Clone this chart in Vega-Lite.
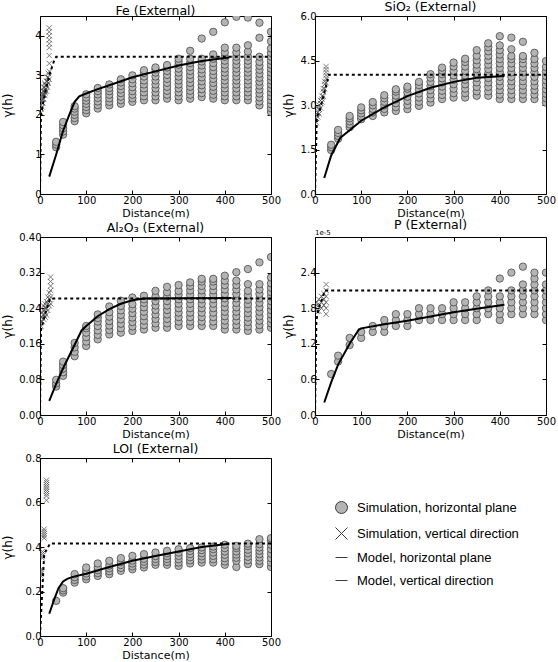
{
"$schema": "https://vega.github.io/schema/vega-lite/v6.json",
"columns": 2,
"spacing": {"row": 43, "column": 44},
"bounds": "flush",
"padding": {"left": 0, "top": 0, "right": 5, "bottom": 2},
"datasets": {
"feH": [
{"x":35,"y":1.18},{"x":35,"y":1.25},{"x":35,"y":1.32},
{"x":50,"y":1.5},{"x":50,"y":1.58},{"x":50,"y":1.66},{"x":50,"y":1.74},{"x":50,"y":1.82},
{"x":75,"y":1.84},{"x":75,"y":1.92},{"x":75,"y":2.0},{"x":75,"y":2.08},{"x":75,"y":2.16},{"x":75,"y":2.22},
{"x":100,"y":2.04},{"x":100,"y":2.12},{"x":100,"y":2.2},{"x":100,"y":2.28},{"x":100,"y":2.36},{"x":100,"y":2.44},{"x":100,"y":2.52},
{"x":125,"y":2.16},{"x":125,"y":2.25},{"x":125,"y":2.34},{"x":125,"y":2.43},{"x":125,"y":2.52},{"x":125,"y":2.6},{"x":125,"y":2.68},
{"x":150,"y":2.24},{"x":150,"y":2.33},{"x":150,"y":2.42},{"x":150,"y":2.51},{"x":150,"y":2.6},{"x":150,"y":2.68},{"x":150,"y":2.77},
{"x":175,"y":2.28},{"x":175,"y":2.37},{"x":175,"y":2.46},{"x":175,"y":2.55},{"x":175,"y":2.64},{"x":175,"y":2.73},{"x":175,"y":2.82},{"x":175,"y":2.9},
{"x":200,"y":2.33},{"x":200,"y":2.42},{"x":200,"y":2.51},{"x":200,"y":2.6},{"x":200,"y":2.7},{"x":200,"y":2.8},{"x":200,"y":2.9},{"x":200,"y":3.0},
{"x":225,"y":2.37},{"x":225,"y":2.47},{"x":225,"y":2.57},{"x":225,"y":2.67},{"x":225,"y":2.77},{"x":225,"y":2.87},{"x":225,"y":2.97},{"x":225,"y":3.06},{"x":225,"y":3.13},
{"x":250,"y":2.37},{"x":250,"y":2.47},{"x":250,"y":2.57},{"x":250,"y":2.67},{"x":250,"y":2.77},{"x":250,"y":2.87},{"x":250,"y":2.97},{"x":250,"y":3.07},{"x":250,"y":3.15},{"x":250,"y":3.2},
{"x":275,"y":2.41},{"x":275,"y":2.51},{"x":275,"y":2.61},{"x":275,"y":2.71},{"x":275,"y":2.81},{"x":275,"y":2.91},{"x":275,"y":3.01},{"x":275,"y":3.11},{"x":275,"y":3.2},{"x":275,"y":3.26},
{"x":300,"y":2.37},{"x":300,"y":2.47},{"x":300,"y":2.57},{"x":300,"y":2.67},{"x":300,"y":2.77},{"x":300,"y":2.87},{"x":300,"y":2.97},{"x":300,"y":3.07},{"x":300,"y":3.17},{"x":300,"y":3.27},{"x":300,"y":3.35},{"x":300,"y":3.42},
{"x":325,"y":2.41},{"x":325,"y":2.51},{"x":325,"y":2.61},{"x":325,"y":2.71},{"x":325,"y":2.81},{"x":325,"y":2.91},{"x":325,"y":3.01},{"x":325,"y":3.11},{"x":325,"y":3.21},{"x":325,"y":3.31},{"x":325,"y":3.42},{"x":325,"y":3.62},
{"x":350,"y":2.45},{"x":350,"y":2.55},{"x":350,"y":2.65},{"x":350,"y":2.75},{"x":350,"y":2.85},{"x":350,"y":2.95},{"x":350,"y":3.05},{"x":350,"y":3.15},{"x":350,"y":3.25},{"x":350,"y":3.35},{"x":350,"y":3.42},{"x":350,"y":3.93},
{"x":375,"y":2.41},{"x":375,"y":2.51},{"x":375,"y":2.61},{"x":375,"y":2.71},{"x":375,"y":2.81},{"x":375,"y":2.91},{"x":375,"y":3.01},{"x":375,"y":3.11},{"x":375,"y":3.21},{"x":375,"y":3.31},{"x":375,"y":3.42},{"x":375,"y":3.53},{"x":375,"y":4.1},
{"x":400,"y":2.37},{"x":400,"y":2.47},{"x":400,"y":2.57},{"x":400,"y":2.67},{"x":400,"y":2.77},{"x":400,"y":2.87},{"x":400,"y":2.97},{"x":400,"y":3.07},{"x":400,"y":3.17},{"x":400,"y":3.27},{"x":400,"y":3.37},{"x":400,"y":3.47},{"x":400,"y":3.58},{"x":400,"y":3.7},{"x":400,"y":4.34},
{"x":425,"y":2.37},{"x":425,"y":2.47},{"x":425,"y":2.57},{"x":425,"y":2.67},{"x":425,"y":2.77},{"x":425,"y":2.87},{"x":425,"y":2.97},{"x":425,"y":3.07},{"x":425,"y":3.17},{"x":425,"y":3.27},{"x":425,"y":3.37},{"x":425,"y":3.47},{"x":425,"y":3.58},{"x":425,"y":3.7},{"x":425,"y":4.48},
{"x":450,"y":2.37},{"x":450,"y":2.47},{"x":450,"y":2.57},{"x":450,"y":2.67},{"x":450,"y":2.77},{"x":450,"y":2.87},{"x":450,"y":2.97},{"x":450,"y":3.07},{"x":450,"y":3.17},{"x":450,"y":3.27},{"x":450,"y":3.37},{"x":450,"y":3.47},{"x":450,"y":3.6},{"x":450,"y":3.76},{"x":450,"y":4.46},
{"x":475,"y":2.24},{"x":475,"y":2.34},{"x":475,"y":2.44},{"x":475,"y":2.54},{"x":475,"y":2.64},{"x":475,"y":2.74},{"x":475,"y":2.84},{"x":475,"y":2.94},{"x":475,"y":3.04},{"x":475,"y":3.14},{"x":475,"y":3.24},{"x":475,"y":3.34},{"x":475,"y":3.47},{"x":475,"y":3.95},{"x":475,"y":4.33},
{"x":500,"y":2.07},{"x":500,"y":2.17},{"x":500,"y":2.27},{"x":500,"y":2.37},{"x":500,"y":2.47},{"x":500,"y":2.57},{"x":500,"y":2.67},{"x":500,"y":2.77},{"x":500,"y":2.87},{"x":500,"y":2.97},{"x":500,"y":3.07},{"x":500,"y":3.17},{"x":500,"y":3.27},{"x":500,"y":3.37},{"x":500,"y":3.47},{"x":500,"y":3.57},{"x":500,"y":3.68},{"x":500,"y":3.86},{"x":500,"y":4.1}
],
"feV": [
{"x":2,"y":2.05},{"x":2,"y":2.15},{"x":2,"y":2.25},{"x":2,"y":2.35},
{"x":4,"y":2.2},{"x":4,"y":2.3},{"x":4,"y":2.4},{"x":4,"y":2.5},
{"x":6,"y":2.3},{"x":6,"y":2.4},{"x":6,"y":2.5},{"x":6,"y":2.6},
{"x":8,"y":2.4},{"x":8,"y":2.5},{"x":8,"y":2.6},{"x":8,"y":2.7},
{"x":10,"y":2.5},{"x":10,"y":2.6},{"x":10,"y":2.7},{"x":10,"y":2.8},
{"x":12,"y":2.55},{"x":12,"y":2.65},{"x":12,"y":2.75},
{"x":14,"y":2.6},{"x":14,"y":2.75},{"x":14,"y":2.85},
{"x":16,"y":2.7},{"x":16,"y":2.85},{"x":16,"y":2.95},
{"x":18,"y":2.8},{"x":18,"y":2.95},{"x":18,"y":3.05},
{"x":20,"y":2.9},{"x":20,"y":3.1},{"x":20,"y":3.3},{"x":20,"y":3.5},{"x":20,"y":3.7},{"x":20,"y":3.8},{"x":20,"y":3.9},{"x":20,"y":4.0},{"x":20,"y":4.1},{"x":20,"y":4.2}
],
"feM": [{"x":20,"y":0.44},{"x":35,"y":1.0},{"x":50,"y":1.6},{"x":65,"y":2.05},{"x":75,"y":2.33},{"x":85,"y":2.47},{"x":100,"y":2.54},{"x":125,"y":2.65},{"x":150,"y":2.75},{"x":200,"y":2.95},{"x":250,"y":3.1},{"x":300,"y":3.25},{"x":350,"y":3.36},{"x":400,"y":3.44},{"x":410,"y":3.45}],
"feMV": [{"x":0,"y":0},{"x":2,"y":2.0},{"x":10,"y":2.5},{"x":20,"y":3.0},{"x":30,"y":3.35},{"x":35,"y":3.47},{"x":500,"y":3.47}],
"siH": [
{"x":35,"y":1.48},{"x":35,"y":1.58},{"x":35,"y":1.66},
{"x":50,"y":1.86},{"x":50,"y":1.96},{"x":50,"y":2.06},{"x":50,"y":2.16},
{"x":75,"y":2.25},{"x":75,"y":2.35},{"x":75,"y":2.45},{"x":75,"y":2.55},{"x":75,"y":2.63},
{"x":100,"y":2.52},{"x":100,"y":2.62},{"x":100,"y":2.72},{"x":100,"y":2.82},{"x":100,"y":2.92},
{"x":125,"y":2.63},{"x":125,"y":2.75},{"x":125,"y":2.87},{"x":125,"y":2.99},{"x":125,"y":3.1},
{"x":150,"y":2.75},{"x":150,"y":2.87},{"x":150,"y":2.99},{"x":150,"y":3.11},{"x":150,"y":3.23},{"x":150,"y":3.33},
{"x":175,"y":2.8},{"x":175,"y":2.93},{"x":175,"y":3.06},{"x":175,"y":3.19},{"x":175,"y":3.32},{"x":175,"y":3.45},{"x":175,"y":3.53},
{"x":200,"y":2.86},{"x":200,"y":3.0},{"x":200,"y":3.14},{"x":200,"y":3.28},{"x":200,"y":3.42},{"x":200,"y":3.55},{"x":200,"y":3.62},
{"x":225,"y":2.97},{"x":225,"y":3.11},{"x":225,"y":3.25},{"x":225,"y":3.39},{"x":225,"y":3.53},{"x":225,"y":3.67},{"x":225,"y":3.78},
{"x":250,"y":3.08},{"x":250,"y":3.22},{"x":250,"y":3.36},{"x":250,"y":3.5},{"x":250,"y":3.64},{"x":250,"y":3.78},{"x":250,"y":3.92},{"x":250,"y":4.04},
{"x":275,"y":3.2},{"x":275,"y":3.34},{"x":275,"y":3.48},{"x":275,"y":3.62},{"x":275,"y":3.76},{"x":275,"y":3.9},{"x":275,"y":4.04},{"x":275,"y":4.16},{"x":275,"y":4.26},
{"x":300,"y":3.25},{"x":300,"y":3.4},{"x":300,"y":3.55},{"x":300,"y":3.7},{"x":300,"y":3.85},{"x":300,"y":4.0},{"x":300,"y":4.15},{"x":300,"y":4.3},{"x":300,"y":4.43},
{"x":325,"y":3.25},{"x":325,"y":3.4},{"x":325,"y":3.55},{"x":325,"y":3.7},{"x":325,"y":3.85},{"x":325,"y":4.0},{"x":325,"y":4.15},{"x":325,"y":4.3},{"x":325,"y":4.45},{"x":325,"y":4.56},
{"x":350,"y":3.31},{"x":350,"y":3.46},{"x":350,"y":3.61},{"x":350,"y":3.76},{"x":350,"y":3.91},{"x":350,"y":4.06},{"x":350,"y":4.21},{"x":350,"y":4.36},{"x":350,"y":4.51},{"x":350,"y":4.66},{"x":350,"y":4.85},
{"x":375,"y":3.31},{"x":375,"y":3.46},{"x":375,"y":3.61},{"x":375,"y":3.76},{"x":375,"y":3.91},{"x":375,"y":4.06},{"x":375,"y":4.21},{"x":375,"y":4.36},{"x":375,"y":4.51},{"x":375,"y":4.66},{"x":375,"y":4.81},{"x":375,"y":4.95},{"x":375,"y":5.08},
{"x":400,"y":3.2},{"x":400,"y":3.35},{"x":400,"y":3.5},{"x":400,"y":3.65},{"x":400,"y":3.8},{"x":400,"y":3.95},{"x":400,"y":4.1},{"x":400,"y":4.25},{"x":400,"y":4.4},{"x":400,"y":4.55},{"x":400,"y":4.7},{"x":400,"y":4.85},{"x":400,"y":5.01},{"x":400,"y":5.32},
{"x":425,"y":3.2},{"x":425,"y":3.35},{"x":425,"y":3.5},{"x":425,"y":3.65},{"x":425,"y":3.8},{"x":425,"y":3.95},{"x":425,"y":4.1},{"x":425,"y":4.25},{"x":425,"y":4.4},{"x":425,"y":4.55},{"x":425,"y":4.65},{"x":425,"y":4.88},{"x":425,"y":5.27},
{"x":450,"y":3.2},{"x":450,"y":3.35},{"x":450,"y":3.5},{"x":450,"y":3.65},{"x":450,"y":3.8},{"x":450,"y":3.95},{"x":450,"y":4.1},{"x":450,"y":4.25},{"x":450,"y":4.4},{"x":450,"y":4.55},{"x":450,"y":4.65},{"x":450,"y":5.13},
{"x":475,"y":3.2},{"x":475,"y":3.35},{"x":475,"y":3.5},{"x":475,"y":3.65},{"x":475,"y":3.8},{"x":475,"y":3.95},{"x":475,"y":4.1},{"x":475,"y":4.25},{"x":475,"y":4.4},{"x":475,"y":4.55},{"x":475,"y":4.76},
{"x":500,"y":3.08},{"x":500,"y":3.23},{"x":500,"y":3.38},{"x":500,"y":3.53},{"x":500,"y":3.68},{"x":500,"y":3.83},{"x":500,"y":3.98},{"x":500,"y":4.13},{"x":500,"y":4.28},{"x":500,"y":4.48}
],
"siV": [
{"x":3,"y":2.4},{"x":3,"y":2.55},{"x":3,"y":2.7},
{"x":6,"y":2.6},{"x":6,"y":2.75},{"x":6,"y":2.9},
{"x":9,"y":2.7},{"x":9,"y":2.85},{"x":9,"y":3.0},
{"x":12,"y":2.9},{"x":12,"y":3.05},{"x":12,"y":3.15},
{"x":15,"y":3.1},{"x":15,"y":3.2},{"x":15,"y":3.3},
{"x":18,"y":3.3},{"x":18,"y":3.45},{"x":18,"y":3.55},
{"x":21,"y":3.55},{"x":21,"y":3.7},{"x":21,"y":3.8},
{"x":24,"y":3.75},{"x":24,"y":3.9},{"x":24,"y":4.0},{"x":24,"y":4.1},{"x":24,"y":4.2},{"x":24,"y":4.3}
],
"siM": [{"x":20,"y":0.54},{"x":35,"y":1.3},{"x":50,"y":1.75},{"x":55,"y":1.9},{"x":75,"y":2.15},{"x":100,"y":2.47},{"x":150,"y":2.92},{"x":200,"y":3.3},{"x":250,"y":3.58},{"x":300,"y":3.78},{"x":350,"y":3.92},{"x":410,"y":3.98}],
"siMV": [{"x":0,"y":0},{"x":4,"y":2.6},{"x":10,"y":2.8},{"x":15,"y":3.1},{"x":20,"y":3.4},{"x":30,"y":4.02},{"x":500,"y":4.02}],
"alH": [
{"x":35,"y":0.064},{"x":35,"y":0.071},{"x":35,"y":0.079},
{"x":50,"y":0.088},{"x":50,"y":0.096},{"x":50,"y":0.104},{"x":50,"y":0.112},{"x":50,"y":0.12},
{"x":75,"y":0.132},{"x":75,"y":0.142},{"x":75,"y":0.152},{"x":75,"y":0.162},
{"x":100,"y":0.155},{"x":100,"y":0.165},{"x":100,"y":0.175},{"x":100,"y":0.185},{"x":100,"y":0.195},{"x":100,"y":0.2},
{"x":125,"y":0.17},{"x":125,"y":0.18},{"x":125,"y":0.19},{"x":125,"y":0.2},{"x":125,"y":0.21},{"x":125,"y":0.218},{"x":125,"y":0.226},
{"x":150,"y":0.181},{"x":150,"y":0.191},{"x":150,"y":0.201},{"x":150,"y":0.211},{"x":150,"y":0.221},{"x":150,"y":0.231},{"x":150,"y":0.244},
{"x":175,"y":0.185},{"x":175,"y":0.195},{"x":175,"y":0.205},{"x":175,"y":0.215},{"x":175,"y":0.225},{"x":175,"y":0.235},{"x":175,"y":0.245},{"x":175,"y":0.257},
{"x":200,"y":0.189},{"x":200,"y":0.199},{"x":200,"y":0.209},{"x":200,"y":0.219},{"x":200,"y":0.229},{"x":200,"y":0.239},{"x":200,"y":0.249},{"x":200,"y":0.264},
{"x":225,"y":0.192},{"x":225,"y":0.202},{"x":225,"y":0.212},{"x":225,"y":0.222},{"x":225,"y":0.232},{"x":225,"y":0.242},{"x":225,"y":0.252},{"x":225,"y":0.26},{"x":225,"y":0.268},
{"x":250,"y":0.196},{"x":250,"y":0.206},{"x":250,"y":0.216},{"x":250,"y":0.226},{"x":250,"y":0.236},{"x":250,"y":0.246},{"x":250,"y":0.256},{"x":250,"y":0.266},{"x":250,"y":0.279},
{"x":275,"y":0.196},{"x":275,"y":0.206},{"x":275,"y":0.216},{"x":275,"y":0.226},{"x":275,"y":0.236},{"x":275,"y":0.246},{"x":275,"y":0.256},{"x":275,"y":0.266},{"x":275,"y":0.276},{"x":275,"y":0.288},
{"x":300,"y":0.2},{"x":300,"y":0.21},{"x":300,"y":0.22},{"x":300,"y":0.23},{"x":300,"y":0.24},{"x":300,"y":0.25},{"x":300,"y":0.26},{"x":300,"y":0.27},{"x":300,"y":0.279},{"x":300,"y":0.292},
{"x":325,"y":0.2},{"x":325,"y":0.21},{"x":325,"y":0.22},{"x":325,"y":0.23},{"x":325,"y":0.24},{"x":325,"y":0.25},{"x":325,"y":0.26},{"x":325,"y":0.27},{"x":325,"y":0.28},{"x":325,"y":0.29},{"x":325,"y":0.298},
{"x":350,"y":0.2},{"x":350,"y":0.21},{"x":350,"y":0.22},{"x":350,"y":0.23},{"x":350,"y":0.24},{"x":350,"y":0.25},{"x":350,"y":0.26},{"x":350,"y":0.27},{"x":350,"y":0.28},{"x":350,"y":0.29},{"x":350,"y":0.3},{"x":350,"y":0.306},
{"x":375,"y":0.2},{"x":375,"y":0.21},{"x":375,"y":0.22},{"x":375,"y":0.23},{"x":375,"y":0.24},{"x":375,"y":0.25},{"x":375,"y":0.26},{"x":375,"y":0.27},{"x":375,"y":0.28},{"x":375,"y":0.29},{"x":375,"y":0.3},{"x":375,"y":0.306},
{"x":400,"y":0.192},{"x":400,"y":0.202},{"x":400,"y":0.212},{"x":400,"y":0.222},{"x":400,"y":0.232},{"x":400,"y":0.242},{"x":400,"y":0.252},{"x":400,"y":0.262},{"x":400,"y":0.272},{"x":400,"y":0.282},{"x":400,"y":0.292},{"x":400,"y":0.302},{"x":400,"y":0.313},
{"x":425,"y":0.192},{"x":425,"y":0.202},{"x":425,"y":0.212},{"x":425,"y":0.222},{"x":425,"y":0.232},{"x":425,"y":0.242},{"x":425,"y":0.252},{"x":425,"y":0.262},{"x":425,"y":0.272},{"x":425,"y":0.282},{"x":425,"y":0.292},{"x":425,"y":0.302},{"x":425,"y":0.321},
{"x":450,"y":0.189},{"x":450,"y":0.199},{"x":450,"y":0.209},{"x":450,"y":0.219},{"x":450,"y":0.229},{"x":450,"y":0.239},{"x":450,"y":0.249},{"x":450,"y":0.259},{"x":450,"y":0.269},{"x":450,"y":0.279},{"x":450,"y":0.294},{"x":450,"y":0.328},
{"x":475,"y":0.192},{"x":475,"y":0.202},{"x":475,"y":0.212},{"x":475,"y":0.222},{"x":475,"y":0.232},{"x":475,"y":0.242},{"x":475,"y":0.252},{"x":475,"y":0.262},{"x":475,"y":0.272},{"x":475,"y":0.282},{"x":475,"y":0.294},{"x":475,"y":0.343},
{"x":500,"y":0.196},{"x":500,"y":0.206},{"x":500,"y":0.216},{"x":500,"y":0.226},{"x":500,"y":0.236},{"x":500,"y":0.246},{"x":500,"y":0.256},{"x":500,"y":0.266},{"x":500,"y":0.276},{"x":500,"y":0.286},{"x":500,"y":0.296},{"x":500,"y":0.309},{"x":500,"y":0.355}
],
"alV": [
{"x":2,"y":0.2},{"x":2,"y":0.21},{"x":2,"y":0.22},
{"x":5,"y":0.21},{"x":5,"y":0.22},{"x":5,"y":0.23},
{"x":8,"y":0.215},{"x":8,"y":0.225},{"x":8,"y":0.235},{"x":8,"y":0.245},
{"x":11,"y":0.22},{"x":11,"y":0.23},{"x":11,"y":0.24},{"x":11,"y":0.25},
{"x":14,"y":0.225},{"x":14,"y":0.24},{"x":14,"y":0.255},
{"x":17,"y":0.235},{"x":17,"y":0.25},{"x":17,"y":0.265},
{"x":20,"y":0.245},{"x":20,"y":0.26},{"x":20,"y":0.275},
{"x":23,"y":0.25},{"x":23,"y":0.265},{"x":23,"y":0.28},{"x":23,"y":0.29},{"x":23,"y":0.3},{"x":23,"y":0.31}
],
"alM": [{"x":20,"y":0.032},{"x":35,"y":0.07},{"x":50,"y":0.105},{"x":75,"y":0.158},{"x":90,"y":0.19},{"x":100,"y":0.2},{"x":125,"y":0.222},{"x":150,"y":0.238},{"x":175,"y":0.25},{"x":200,"y":0.258},{"x":225,"y":0.262},{"x":415,"y":0.263}],
"alMV": [{"x":0,"y":0},{"x":2,"y":0.19},{"x":8,"y":0.215},{"x":15,"y":0.24},{"x":22,"y":0.262},{"x":500,"y":0.262}],
"pH": [
{"x":35,"y":0.69},
{"x":50,"y":0.9},{"x":50,"y":1.0},
{"x":75,"y":1.18},{"x":75,"y":1.3},
{"x":100,"y":1.3},{"x":100,"y":1.4},
{"x":125,"y":1.4},{"x":125,"y":1.5},
{"x":150,"y":1.4},{"x":150,"y":1.5},{"x":150,"y":1.6},
{"x":175,"y":1.5},{"x":175,"y":1.6},{"x":175,"y":1.7},
{"x":200,"y":1.5},{"x":200,"y":1.6},{"x":200,"y":1.7},
{"x":225,"y":1.6},{"x":225,"y":1.7},{"x":225,"y":1.8},
{"x":250,"y":1.6},{"x":250,"y":1.7},{"x":250,"y":1.8},
{"x":275,"y":1.6},{"x":275,"y":1.7},{"x":275,"y":1.8},
{"x":300,"y":1.6},{"x":300,"y":1.7},{"x":300,"y":1.8},{"x":300,"y":1.9},
{"x":325,"y":1.6},{"x":325,"y":1.7},{"x":325,"y":1.8},{"x":325,"y":1.9},
{"x":350,"y":1.6},{"x":350,"y":1.7},{"x":350,"y":1.8},{"x":350,"y":1.9},{"x":350,"y":2.0},
{"x":375,"y":1.7},{"x":375,"y":1.8},{"x":375,"y":1.9},{"x":375,"y":2.0},{"x":375,"y":2.1},
{"x":400,"y":1.6},{"x":400,"y":1.7},{"x":400,"y":1.8},{"x":400,"y":1.9},{"x":400,"y":2.0},{"x":400,"y":2.3},
{"x":425,"y":1.7},{"x":425,"y":1.8},{"x":425,"y":1.9},{"x":425,"y":2.0},{"x":425,"y":2.1},{"x":425,"y":2.4},
{"x":450,"y":1.7},{"x":450,"y":1.8},{"x":450,"y":1.9},{"x":450,"y":2.0},{"x":450,"y":2.1},{"x":450,"y":2.2},{"x":450,"y":2.5},
{"x":475,"y":1.7},{"x":475,"y":1.8},{"x":475,"y":1.9},{"x":475,"y":2.0},{"x":475,"y":2.1},{"x":475,"y":2.2},{"x":475,"y":2.3},{"x":475,"y":2.4},
{"x":500,"y":1.6},{"x":500,"y":1.7},{"x":500,"y":1.8},{"x":500,"y":1.9},{"x":500,"y":2.0},{"x":500,"y":2.1},{"x":500,"y":2.2},{"x":500,"y":2.4}
],
"pV": [
{"x":4,"y":1.75},{"x":4,"y":1.85},{"x":4,"y":1.9},
{"x":8,"y":1.75},{"x":8,"y":1.85},{"x":8,"y":1.95},
{"x":14,"y":1.8},{"x":14,"y":1.9},{"x":14,"y":2.0},
{"x":19,"y":1.85},{"x":19,"y":1.95},{"x":19,"y":2.05},
{"x":24,"y":1.7},{"x":24,"y":1.8},{"x":24,"y":1.9},{"x":24,"y":2.0},{"x":24,"y":2.1},{"x":24,"y":2.2}
],
"pM": [{"x":20,"y":0.21},{"x":35,"y":0.55},{"x":50,"y":0.85},{"x":75,"y":1.2},{"x":95,"y":1.44},{"x":100,"y":1.46},{"x":150,"y":1.53},{"x":200,"y":1.59},{"x":250,"y":1.66},{"x":300,"y":1.73},{"x":350,"y":1.79},{"x":410,"y":1.86}],
"pMV": [{"x":0,"y":0},{"x":3,"y":1.6},{"x":8,"y":1.8},{"x":15,"y":1.95},{"x":22,"y":2.1},{"x":500,"y":2.1}],
"pT": [{"t":"1e-5","x":0,"y":3}],
"loiH": [
{"x":35,"y":0.158},
{"x":50,"y":0.195},{"x":50,"y":0.205},{"x":50,"y":0.215},
{"x":75,"y":0.24},{"x":75,"y":0.252},{"x":75,"y":0.264},{"x":75,"y":0.278},
{"x":100,"y":0.255},{"x":100,"y":0.268},{"x":100,"y":0.281},{"x":100,"y":0.294},{"x":100,"y":0.308},
{"x":125,"y":0.27},{"x":125,"y":0.283},{"x":125,"y":0.296},{"x":125,"y":0.309},{"x":125,"y":0.326},
{"x":150,"y":0.278},{"x":150,"y":0.291},{"x":150,"y":0.304},{"x":150,"y":0.317},{"x":150,"y":0.338},
{"x":175,"y":0.293},{"x":175,"y":0.306},{"x":175,"y":0.319},{"x":175,"y":0.332},{"x":175,"y":0.35},
{"x":200,"y":0.3},{"x":200,"y":0.313},{"x":200,"y":0.326},{"x":200,"y":0.339},{"x":200,"y":0.36},
{"x":225,"y":0.308},{"x":225,"y":0.321},{"x":225,"y":0.334},{"x":225,"y":0.347},{"x":225,"y":0.368},
{"x":250,"y":0.32},{"x":250,"y":0.333},{"x":250,"y":0.346},{"x":250,"y":0.359},{"x":250,"y":0.375},
{"x":275,"y":0.32},{"x":275,"y":0.333},{"x":275,"y":0.346},{"x":275,"y":0.359},{"x":275,"y":0.372},{"x":275,"y":0.383},
{"x":300,"y":0.315},{"x":300,"y":0.33},{"x":300,"y":0.345},{"x":300,"y":0.36},{"x":300,"y":0.375},{"x":300,"y":0.39},
{"x":325,"y":0.326},{"x":325,"y":0.34},{"x":325,"y":0.354},{"x":325,"y":0.368},{"x":325,"y":0.382},{"x":325,"y":0.395},
{"x":350,"y":0.33},{"x":350,"y":0.344},{"x":350,"y":0.358},{"x":350,"y":0.372},{"x":350,"y":0.386},{"x":350,"y":0.398},
{"x":375,"y":0.33},{"x":375,"y":0.345},{"x":375,"y":0.36},{"x":375,"y":0.375},{"x":375,"y":0.39},{"x":375,"y":0.402},
{"x":400,"y":0.32},{"x":400,"y":0.335},{"x":400,"y":0.35},{"x":400,"y":0.365},{"x":400,"y":0.38},{"x":400,"y":0.395},{"x":400,"y":0.41},
{"x":425,"y":0.31},{"x":425,"y":0.338},{"x":425,"y":0.352},{"x":425,"y":0.366},{"x":425,"y":0.38},{"x":425,"y":0.395},{"x":425,"y":0.405},
{"x":450,"y":0.323},{"x":450,"y":0.34},{"x":450,"y":0.356},{"x":450,"y":0.372},{"x":450,"y":0.388},{"x":450,"y":0.404},{"x":450,"y":0.415},
{"x":475,"y":0.323},{"x":475,"y":0.338},{"x":475,"y":0.353},{"x":475,"y":0.368},{"x":475,"y":0.383},{"x":475,"y":0.398},{"x":475,"y":0.413},{"x":475,"y":0.435},
{"x":500,"y":0.31},{"x":500,"y":0.33},{"x":500,"y":0.35},{"x":500,"y":0.37},{"x":500,"y":0.39},{"x":500,"y":0.41},{"x":500,"y":0.43},{"x":500,"y":0.44}
],
"loiV": [
{"x":2,"y":0.27},{"x":2,"y":0.28},{"x":2,"y":0.29},{"x":2,"y":0.3},
{"x":5,"y":0.35},{"x":5,"y":0.36},{"x":5,"y":0.37},{"x":5,"y":0.38},
{"x":9,"y":0.44},{"x":9,"y":0.45},{"x":9,"y":0.46},{"x":9,"y":0.47},{"x":9,"y":0.48},
{"x":14,"y":0.61},{"x":14,"y":0.63},{"x":14,"y":0.64},{"x":14,"y":0.65},{"x":14,"y":0.66},{"x":14,"y":0.67},{"x":14,"y":0.68},{"x":14,"y":0.69},{"x":14,"y":0.7}
],
"loiM": [{"x":20,"y":0.1},{"x":30,"y":0.16},{"x":40,"y":0.215},{"x":50,"y":0.245},{"x":60,"y":0.258},{"x":75,"y":0.268},{"x":100,"y":0.28},{"x":150,"y":0.31},{"x":200,"y":0.338},{"x":250,"y":0.36},{"x":300,"y":0.38},{"x":350,"y":0.4},{"x":410,"y":0.415}],
"loiMV": [{"x":0,"y":0},{"x":9,"y":0.368},{"x":22,"y":0.416},{"x":500,"y":0.416}]
},
"concat": [
{
"title": "Fe (External)",
"width": 231, "height": 178,
"resolve": {"axis": {"x": "independent", "y": "independent"}},
"encoding": {
"x": {"field":"x","type":"quantitative","scale":{"domain":[0,500],"nice":false,"zero":false},"axis":null},
"y": {"field":"y","type":"quantitative","scale":{"domain":[0,4.5],"nice":false},"axis":null}
},
"layer": [
{"data":{"name":"feH"},"mark":{"type":"point","filled":true,"fill":"#b4b4b4","stroke":"#3a3a3a","strokeWidth":0.7,"size":55,"opacity":1,"clip":true},
 "encoding":{
  "x": {"field":"x","type":"quantitative","scale":{"domain":[0,500],"nice":false,"zero":false},"axis":{"values":[0,100,200,300,400,500],"format":"d","title":"Distance(m)"}},
  "y": {"field":"y","type":"quantitative","scale":{"domain":[0,4.5],"nice":false},"axis":{"values":[0,1,2,3,4],"format":"d","title":"γ(h)","titleX":-26}},
  "shape":{"datum":"Simulation, horizontal plane","scale":{"domain":["Simulation, horizontal plane","Simulation, vertical direction","Model, horizontal plane","Model, vertical direction"],"range":["circle","M-1,-1L1,1M-1,1L1,-1","stroke","stroke"]},
  "legend":{"title":null,"orient":"none","legendX":295,"legendY":485,
   "encode":{"symbols":{
    "fill":{"value":{"expr":"datum.value === 'Simulation, horizontal plane' ? '#b4b4b4' : 'transparent'"}},
    "stroke":{"value":"#000000"},
    "opacity":{"value":1},
    "size":{"value":{"expr":"datum.value === 'Simulation, horizontal plane' ? 64 : datum.value === 'Simulation, vertical direction' ? 72 : 140"}},
    "strokeWidth":{"value":{"expr":"datum.value === 'Model, horizontal plane' ? 2.2 : datum.value === 'Model, vertical direction' ? 1.5 : 1"}},
    "strokeDash":{"value":{"expr":"datum.value === 'Model, vertical direction' ? [1.3,1.2] : null"}}}}}}}},
{"data":{"name":"feV"},"mark":{"type":"point","filled":false,"stroke":"#444","strokeWidth":1,"size":28,"opacity":0.7,"clip":true},"encoding":{"shape":{"datum":"Simulation, vertical direction"}}},
{"data":{"name":"feM"},"mark":{"type":"line","stroke":"#000","strokeWidth":2,"clip":true},
 "encoding":{"x":{"field":"x","type":"quantitative","axis":{"orient":"top","values":[0,100,200,300,400,500],"labels":false,"title":null}},"y":{"field":"y","type":"quantitative","axis":{"orient":"right","values":[0,1,2,3,4],"labels":false,"title":null}}}},
{"data":{"name":"feMV"},"mark":{"type":"line","stroke":"#000","strokeWidth":2,"strokeDash":[3,3],"clip":true},"encoding":{}}
]
},
{
"title": "SiO₂ (External)",
"width": 231, "height": 178,
"resolve": {"axis": {"x": "independent", "y": "independent"}},
"encoding": {
"x": {"field":"x","type":"quantitative","scale":{"domain":[0,500],"nice":false,"zero":false},"axis":null},
"y": {"field":"y","type":"quantitative","scale":{"domain":[0,6],"nice":false},"axis":null}
},
"layer": [
{"data":{"name":"siH"},"mark":{"type":"point","filled":true,"fill":"#b4b4b4","stroke":"#3a3a3a","strokeWidth":0.7,"size":55,"opacity":1,"clip":true},
 "encoding":{
  "x": {"field":"x","type":"quantitative","scale":{"domain":[0,500],"nice":false,"zero":false},"axis":{"values":[0,100,200,300,400,500],"format":"d","title":"Distance(m)"}},
  "y": {"field":"y","type":"quantitative","scale":{"domain":[0,6],"nice":false},"axis":{"values":[0,1.5,3,4.5,6],"format":".1f","title":"γ(h)","titleX":-20}},
  "shape":{"datum":"Simulation, horizontal plane"}}},
{"data":{"name":"siV"},"mark":{"type":"point","filled":false,"stroke":"#444","strokeWidth":1,"size":28,"opacity":0.7,"clip":true},"encoding":{"shape":{"datum":"Simulation, vertical direction"}}},
{"data":{"name":"siM"},"mark":{"type":"line","stroke":"#000","strokeWidth":2,"clip":true},
 "encoding":{"x":{"field":"x","type":"quantitative","axis":{"orient":"top","values":[0,100,200,300,400,500],"labels":false,"title":null}},"y":{"field":"y","type":"quantitative","axis":{"orient":"right","values":[0,1.5,3,4.5,6],"labels":false,"title":null}}}},
{"data":{"name":"siMV"},"mark":{"type":"line","stroke":"#000","strokeWidth":2,"strokeDash":[3,3],"clip":true},"encoding":{}}
]
},
{
"title": "Al₂O₃ (External)",
"width": 231, "height": 178,
"resolve": {"axis": {"x": "independent", "y": "independent"}},
"encoding": {
"x": {"field":"x","type":"quantitative","scale":{"domain":[0,500],"nice":false,"zero":false},"axis":null},
"y": {"field":"y","type":"quantitative","scale":{"domain":[0,0.4],"nice":false},"axis":null}
},
"layer": [
{"data":{"name":"alH"},"mark":{"type":"point","filled":true,"fill":"#b4b4b4","stroke":"#3a3a3a","strokeWidth":0.7,"size":55,"opacity":1,"clip":true},
 "encoding":{
  "x": {"field":"x","type":"quantitative","scale":{"domain":[0,500],"nice":false,"zero":false},"axis":{"values":[0,100,200,300,400,500],"format":"d","title":"Distance(m)"}},
  "y": {"field":"y","type":"quantitative","scale":{"domain":[0,0.4],"nice":false},"axis":{"values":[0,0.08,0.16,0.24,0.32,0.4],"format":".2f","title":"γ(h)","titleX":-26}},
  "shape":{"datum":"Simulation, horizontal plane"}}},
{"data":{"name":"alV"},"mark":{"type":"point","filled":false,"stroke":"#444","strokeWidth":1,"size":28,"opacity":0.7,"clip":true},"encoding":{"shape":{"datum":"Simulation, vertical direction"}}},
{"data":{"name":"alM"},"mark":{"type":"line","stroke":"#000","strokeWidth":2,"clip":true},
 "encoding":{"x":{"field":"x","type":"quantitative","axis":{"orient":"top","values":[0,100,200,300,400,500],"labels":false,"title":null}},"y":{"field":"y","type":"quantitative","axis":{"orient":"right","values":[0,0.08,0.16,0.24,0.32,0.4],"labels":false,"title":null}}}},
{"data":{"name":"alMV"},"mark":{"type":"line","stroke":"#000","strokeWidth":2,"strokeDash":[3,3],"clip":true},"encoding":{}}
]
},
{
"title": "P (External)",
"width": 231, "height": 178,
"resolve": {"axis": {"x": "independent", "y": "independent"}},
"encoding": {
"x": {"field":"x","type":"quantitative","scale":{"domain":[0,500],"nice":false,"zero":false},"axis":null},
"y": {"field":"y","type":"quantitative","scale":{"domain":[0,3],"nice":false},"axis":null}
},
"layer": [
{"data":{"name":"pH"},"mark":{"type":"point","filled":true,"fill":"#b4b4b4","stroke":"#3a3a3a","strokeWidth":0.7,"size":55,"opacity":1,"clip":true},
 "encoding":{
  "x": {"field":"x","type":"quantitative","scale":{"domain":[0,500],"nice":false,"zero":false},"axis":{"values":[0,100,200,300,400,500],"format":"d","title":"Distance(m)"}},
  "y": {"field":"y","type":"quantitative","scale":{"domain":[0,3],"nice":false},"axis":{"values":[0,0.6,1.2,1.8,2.4],"format":".1f","title":"γ(h)","titleX":-20}},
  "shape":{"datum":"Simulation, horizontal plane"}}},
{"data":{"name":"pV"},"mark":{"type":"point","filled":false,"stroke":"#444","strokeWidth":1,"size":28,"opacity":0.7,"clip":true},"encoding":{"shape":{"datum":"Simulation, vertical direction"}}},
{"data":{"name":"pM"},"mark":{"type":"line","stroke":"#000","strokeWidth":2,"clip":true},
 "encoding":{"x":{"field":"x","type":"quantitative","axis":{"orient":"top","values":[0,100,200,300,400,500],"labels":false,"title":null}},"y":{"field":"y","type":"quantitative","axis":{"orient":"right","values":[0,0.6,1.2,1.8,2.4],"labels":false,"title":null}}}},
{"data":{"name":"pMV"},"mark":{"type":"line","stroke":"#000","strokeWidth":2,"strokeDash":[3,3],"clip":true},"encoding":{}},
{"data":{"name":"pT"},"mark":{"type":"text","font":"DejaVu Sans","fontSize":7,"align":"left","baseline":"bottom","dy":-1,"fill":"#000","clip":false},"encoding":{"text":{"field":"t","type":"nominal"}}}
]
},
{
"title": "LOI (External)",
"width": 231, "height": 178,
"resolve": {"axis": {"x": "independent", "y": "independent"}},
"encoding": {
"x": {"field":"x","type":"quantitative","scale":{"domain":[0,500],"nice":false,"zero":false},"axis":null},
"y": {"field":"y","type":"quantitative","scale":{"domain":[0,0.8],"nice":false},"axis":null}
},
"layer": [
{"data":{"name":"loiH"},"mark":{"type":"point","filled":true,"fill":"#b4b4b4","stroke":"#3a3a3a","strokeWidth":0.7,"size":55,"opacity":1,"clip":true},
 "encoding":{
  "x": {"field":"x","type":"quantitative","scale":{"domain":[0,500],"nice":false,"zero":false},"axis":{"values":[0,100,200,300,400,500],"format":"d","title":"Distance(m)"}},
  "y": {"field":"y","type":"quantitative","scale":{"domain":[0,0.8],"nice":false},"axis":{"values":[0,0.2,0.4,0.6,0.8],"format":".1f","title":"γ(h)","titleX":-26}},
  "shape":{"datum":"Simulation, horizontal plane"}}},
{"data":{"name":"loiV"},"mark":{"type":"point","filled":false,"stroke":"#444","strokeWidth":1,"size":28,"opacity":0.7,"clip":true},"encoding":{"shape":{"datum":"Simulation, vertical direction"}}},
{"data":{"name":"loiM"},"mark":{"type":"line","stroke":"#000","strokeWidth":2,"clip":true},
 "encoding":{"x":{"field":"x","type":"quantitative","axis":{"orient":"top","values":[0,100,200,300,400,500],"labels":false,"title":null}},"y":{"field":"y","type":"quantitative","axis":{"orient":"right","values":[0,0.2,0.4,0.6,0.8],"labels":false,"title":null}}}},
{"data":{"name":"loiMV"},"mark":{"type":"line","stroke":"#000","strokeWidth":2,"strokeDash":[3,3],"clip":true},"encoding":{}}
]
}
],
"config": {
"background": "#ffffff",
"view": {"stroke": "#000", "strokeWidth": 1},
"font": "DejaVu Sans",
"title": {"font": "DejaVu Sans", "fontSize": 12.5, "fontWeight": "normal", "color": "#000", "offset": -2},
"axis": {"domain": false, "grid": false, "tickColor": "#000", "tickSize": -4, "labelFont": "DejaVu Sans", "labelFontSize": 10, "labelColor": "#000", "titleFont": "DejaVu Sans", "titleFontSize": 11, "titleFontWeight": "normal", "titleColor": "#000", "labelFlush": false, "labelOverlap": false, "labelPadding": 3, "titlePadding": 1},
"axisX": {"labelPadding": 5, "titlePadding": 2},
"axisY": {"titleFontSize": 12, "titleY": 89, "titleAlign": "center", "titleBaseline": "bottom"},
"legend": {"labelFont": "Liberation Sans", "labelFontSize": 13, "labelColor": "#000", "labelLimit": 400, "symbolSize": 144, "symbolStrokeWidth": 1, "rowPadding": 9, "labelOffset": 9, "padding": 0}
}
}
